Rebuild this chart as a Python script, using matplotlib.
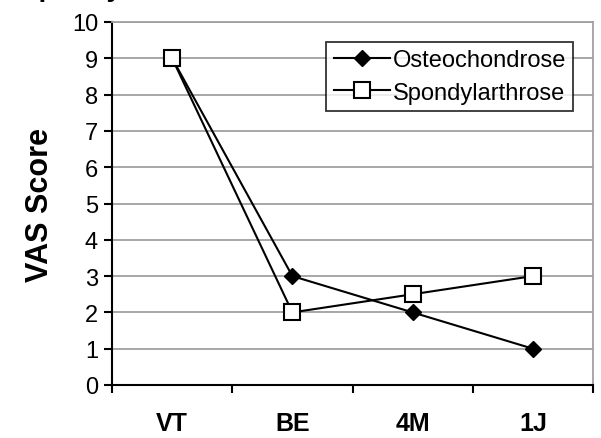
import matplotlib
matplotlib.use("Agg")
import matplotlib.pyplot as plt

plt.rcParams['font.family'] = ['Liberation Sans', 'DejaVu Sans']

categories = ["VT", "BE", "4M", "1J"]
osteo = [9, 3, 2, 1]
spondyl = [9, 2, 2.5, 3]
yticks = list(range(0, 11))
title = "Spondylarthrose"

fig = plt.figure(figsize=(6.01, 4.39), dpi=100)
L, R, T, B = 112, 593, 23, 386
ax = fig.add_axes([L/601, 1-B/439, (R-L)/601, (B-T)/439])

xs = [i + 0.5 for i in range(len(categories))]
ax.plot(xs, osteo, color='black', lw=1.5, marker='D', ms=8.5, mfc='black', mec='black', label='Osteochondrose', zorder=4)
ax.plot(xs, spondyl, color='black', lw=1.5, marker='s', ms=11, mfc='white', mec='black', mew=1.5, label='Spondylarthrose', zorder=4)

ax.set_xlim(0, len(categories))
ax.set_ylim(0, 10)
ax.set_yticks(yticks)
ax.set_yticklabels([str(t) for t in yticks], fontsize=17)
ax.set_xticks(range(len(categories) + 1))
ax.set_xticklabels([])
ax.set_xticks(xs, minor=True)
ax.set_xticklabels(categories, minor=True, fontsize=18, fontweight='bold')
ax.tick_params(axis='x', which='minor', length=0, pad=19)
ax.tick_params(axis='x', which='major', direction='out', length=6, width=1.5, color='black')
ax.tick_params(axis='y', direction='out', length=6, width=1.5, color='black', pad=4)

ax.yaxis.grid(True, color='#a0a0a0', lw=1.3)
ax.set_axisbelow(True)
for s in ['top', 'right']:
    ax.spines[s].set_color('#a0a0a0')
    ax.spines[s].set_linewidth(1.3)
for s in ['left', 'bottom']:
    ax.spines[s].set_color('black')
    ax.spines[s].set_linewidth(1.5)

ax.set_ylabel("VAS Score", fontsize=22, fontweight='bold', labelpad=12)

leg = ax.legend(loc='upper right', bbox_to_anchor=(573/601, 1-43/439), bbox_transform=fig.transFigure,
                fontsize=17, frameon=True, fancybox=False, edgecolor='black', handlelength=2.4,
                borderpad=0.3, labelspacing=0.45, handletextpad=0.1, borderaxespad=0)
leg.get_frame().set_linewidth(1.3)

fig.text(20/601, 1 + 3.5/439, title, fontsize=20, fontweight='bold', ha='left', va='baseline')

fig.savefig("out.png", dpi=100)
